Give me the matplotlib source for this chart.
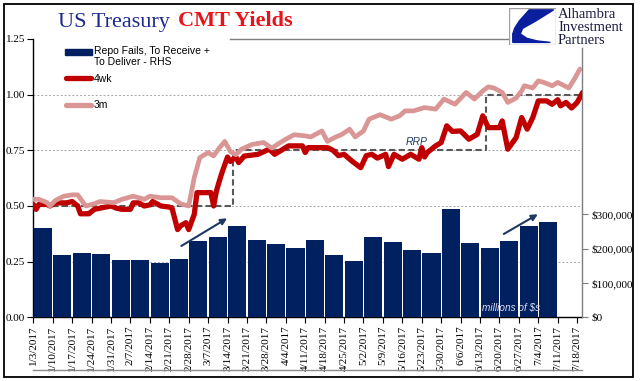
import numpy as np
import matplotlib
matplotlib.use("Agg")
import matplotlib.pyplot as plt
from matplotlib.lines import Line2D
from matplotlib.patches import Rectangle, Polygon
from matplotlib.ticker import FuncFormatter

# ---------------- data ----------------
week_labels = ["1/3/2017", "1/10/2017", "1/17/2017", "1/24/2017", "1/31/2017", "2/7/2017",
               "2/14/2017", "2/21/2017", "2/28/2017", "3/7/2017", "3/14/2017", "3/21/2017",
               "3/28/2017", "4/4/2017", "4/11/2017", "4/18/2017", "4/25/2017", "5/2/2017",
               "5/9/2017", "5/16/2017", "5/23/2017", "5/30/2017", "6/6/2017", "6/13/2017",
               "6/20/2017", "6/27/2017", "7/4/2017", "7/11/2017", "7/18/2017"]

# weekly repo fails (millions of $), one bar per week starting at each label
repo_fails = [261000, 180000, 187000, 183000, 166000, 166000, 158000, 169000, 221000,
              235000, 267000, 224000, 212000, 203000, 224000, 180000, 163000, 233000,
              218000, 195000, 186000, 314000, 215000, 203000, 221000, 267000, 276000]

# daily yields: day offsets from 1/3/2017
days_4wk = [0, 1, 2, 5, 6, 8, 12, 14, 16, 17,
            19, 20, 22, 24, 28, 30, 32, 35, 36, 38,
            40, 42, 43, 46, 49, 50, 52, 53, 55, 56,
            58, 59, 64, 65, 66, 67, 68, 70, 71, 73,
            74, 76, 81, 85, 87, 90, 92, 97, 98, 99,
            106, 108, 110, 112, 115, 118, 120, 122, 124, 127,
            128, 130, 133, 136, 139, 140, 141, 142, 145, 147,
            149, 151, 154, 157, 160, 162, 164, 168, 169, 171,
            174, 176, 178, 180, 182, 185, 187, 189, 190, 192,
            194, 196, 198]
yield_4wk = [0.507, 0.485, 0.507, 0.507, 0.500, 0.514, 0.514, 0.520, 0.500, 0.465,
             0.465, 0.465, 0.485, 0.490, 0.500, 0.490, 0.485, 0.485, 0.514, 0.514,
             0.500, 0.505, 0.520, 0.500, 0.495, 0.490, 0.394, 0.410, 0.425, 0.394,
             0.462, 0.560, 0.560, 0.500, 0.567, 0.610, 0.650, 0.720, 0.700, 0.720,
             0.695, 0.724, 0.732, 0.755, 0.732, 0.755, 0.770, 0.770, 0.740, 0.762,
             0.762, 0.750, 0.726, 0.732, 0.700, 0.672, 0.726, 0.732, 0.715, 0.732,
             0.677, 0.732, 0.710, 0.732, 0.710, 0.762, 0.720, 0.740, 0.770, 0.785,
             0.860, 0.835, 0.837, 0.800, 0.822, 0.905, 0.852, 0.852, 0.882, 0.755,
             0.807, 0.897, 0.845, 0.897, 0.972, 0.972, 0.957, 0.977, 0.950, 0.965,
             0.940, 0.965, 1.010]

days_3m = [0, 2, 5, 6, 8, 11, 14, 16, 18, 19,
           22, 24, 29, 32, 36, 40, 42, 46, 50, 53,
           56, 58, 60, 63, 65, 67, 69, 71, 73, 75,
           79, 83, 86, 88, 91, 94, 98, 100, 104, 106,
           109, 111, 114, 116, 119, 121, 125, 129, 132, 134,
           137, 141, 145, 148, 152, 156, 159, 162, 164, 166,
           169, 171, 174, 176, 177, 180, 182, 184, 187, 189,
           193, 195, 197]
yield_3m = [0.530, 0.530, 0.515, 0.500, 0.525, 0.544, 0.550, 0.550, 0.515, 0.500,
            0.510, 0.520, 0.515, 0.530, 0.544, 0.530, 0.544, 0.537, 0.537, 0.510,
            0.500, 0.627, 0.717, 0.740, 0.725, 0.760, 0.790, 0.745, 0.730, 0.755,
            0.777, 0.785, 0.760, 0.777, 0.800, 0.820, 0.815, 0.810, 0.837, 0.790,
            0.810, 0.820, 0.845, 0.810, 0.837, 0.890, 0.910, 0.890, 0.905, 0.927,
            0.927, 0.942, 0.935, 0.980, 0.957, 1.010, 0.980, 1.017, 1.035, 1.030,
            1.010, 0.965, 0.985, 1.017, 1.040, 1.030, 1.062, 1.055, 1.040, 1.055,
            1.030, 1.070, 1.115]

# Fed reverse repo rate (step)
rrp_days = [0, 72, 163, 198]
rrp_rate = [0.50, 0.75, 1.00, 1.00]

# ---------------- style ----------------
NAVY = "#002060"
RED = "#C00000"
PINK = "#DA9694"
SERIF = ["Liberation Serif", "DejaVu Serif"]
SANS = ["Liberation Sans", "DejaVu Sans"]

W, H = 641, 381
fig = plt.figure(figsize=(W / 100, H / 100), dpi=100)
fig.patch.set_facecolor("white")


def fx(x):
    return x / W


def fy(y):
    return 1 - y / H


L, R, T, B = 33.3, 582.0, 39.0, 317.3
ax = fig.add_axes([fx(L), fy(B), fx(R) - fx(L), fy(T) - fy(B)])
ax2 = ax.twinx()
ax3 = ax.twinx()

xmax = 28.25
y1max = 1.25
y2max = 810000

# ---- base axis (grid + left scale + dates)
ax.set_xlim(0, xmax)
ax.set_ylim(0, y1max)
for v in [0.25, 0.50, 0.75, 1.00]:
    ax.axhline(v, color="#A6A6A6", lw=0.7, ls=(0, (2, 2)), zorder=0)
ax.set_yticks([0, 0.25, 0.5, 0.75, 1.0, 1.25])
ax.set_yticklabels([f"{v:.2f}" for v in [0, 0.25, 0.5, 0.75, 1.0, 1.25]],
                   fontfamily=SERIF, fontsize=8)
ax.set_xticks(np.arange(len(week_labels)))
ax.set_xticklabels(week_labels, rotation=90, fontfamily=SERIF, fontsize=8)
ax.tick_params(axis="y", direction="out", length=4, width=0.8, pad=2, colors="black")
ax.tick_params(axis="x", direction="out", length=4, width=0.8, pad=2, colors="black")
for s in ["left", "bottom"]:
    ax.spines[s].set_color("black")
    ax.spines[s].set_linewidth(1.0)
ax.spines["right"].set_visible(False)
ax.spines["top"].set_color("#7F7F7F")
ax.spines["top"].set_linewidth(1.0)
ax.spines["top"].set_bounds((230 - L) / (R - L) * xmax, (509 - L) / (R - L) * xmax)

# ---- bars on right scale
bar_x = np.arange(len(repo_fails)) + 0.5
ax2.bar(bar_x, repo_fails, width=0.93, color=NAVY, zorder=2)
ax2.set_ylim(0, y2max)
ax2.set_yticks([0, 100000, 200000, 300000])
ax2.yaxis.set_major_formatter(FuncFormatter(lambda v, p: f"${v:,.0f}"))
for lab in ax2.get_yticklabels():
    lab.set_fontfamily(SERIF)
    lab.set_fontsize(8)
ax2.tick_params(axis="y", direction="out", length=4, width=0.8, pad=3,
                color="#7F7F7F", labelcolor="black")
for s in ["left", "top", "bottom"]:
    ax2.spines[s].set_visible(False)
ax2.spines["right"].set_color("#7F7F7F")
ax2.spines["right"].set_linewidth(1.0)
ax2.spines["right"].set_bounds(0, y2max * (B - 48) / (B - T))

# ---- lines on left scale
ax3.set_ylim(0, y1max)
ax3.set_xlim(0, xmax)
ax3.set_yticks([])
for s in ax3.spines.values():
    s.set_visible(False)
ax3.plot(np.array(rrp_days) / 7, rrp_rate, drawstyle="steps-post", color="#595959",
         lw=1.5, ls=(0, (3, 1.6)), zorder=3)
ax3.plot(np.array(days_4wk) / 7, yield_4wk, color=RED, lw=3.8,
         solid_joinstyle="round", solid_capstyle="round", zorder=4)
ax3.plot(np.array(days_3m) / 7, yield_3m, color=PINK, lw=3.4,
         solid_joinstyle="round", solid_capstyle="round", zorder=5)

ax3.annotate("", xy=(10.1, 0.451), xytext=(7.5, 0.314),
             arrowprops=dict(arrowstyle="-|>", color="#1F3864", lw=1.5, mutation_scale=9))
ax3.annotate("", xy=(26.1, 0.469), xytext=(24.1, 0.368),
             arrowprops=dict(arrowstyle="-|>", color="#1F3864", lw=1.5, mutation_scale=9))
ax3.text(19.15, 0.786, "RRP", style="italic", color="#1F3864", fontsize=7.5,
         fontfamily=SANS, va="center", ha="left")
ax3.text(23.1, 0.04, "millions of $s", style="italic", color="#DCDCF0", fontsize=7.2,
         fontfamily=SANS, va="center", ha="left")

# ---------------- legend (manual) ----------------
fig.add_artist(Rectangle((fx(65), fy(54.5)), fx(92) - fx(65), fy(48.5) - fy(54.5),
                         transform=fig.transFigure, color=NAVY))
fig.text(fx(94), fy(46.5), "Repo Fails, To Receive +\nTo Deliver - RHS", fontsize=7.5,
         fontfamily=SANS, va="top", ha="left", linespacing=1.05)
fig.add_artist(Line2D([fx(66), fx(91)], [fy(78), fy(78)], transform=fig.transFigure,
                      color=RED, lw=3.8, solid_capstyle="round"))
fig.text(fx(93.5), fy(78.5), "4wk", fontsize=7.5, fontfamily=SANS, va="center", ha="left")
fig.add_artist(Line2D([fx(66), fx(91)], [fy(105), fy(105)], transform=fig.transFigure,
                      color=PINK, lw=3.8, solid_capstyle="round"))
fig.text(fx(93.5), fy(105.5), "3m", fontsize=7.5, fontfamily=SANS, va="center", ha="left")

# ---------------- title ----------------
fig.text(fx(58), fy(26.5), "US Treasury", fontsize=16, fontfamily=SERIF,
         color="#1C2A8C", va="baseline", ha="left")
fig.text(fx(178), fy(26.5), "CMT Yields", fontsize=16, fontfamily=SERIF,
         fontweight="bold", color="#E8141B", va="baseline", ha="left")

# ---------------- logo ----------------
lax = fig.add_axes([fx(509), fy(45), fx(556) - fx(509), fy(8) - fy(45)])
lax.set_xlim(0, 1)
lax.set_ylim(0, 1)
lax.axis("off")
lax.add_patch(Rectangle((0.01, 0.01), 0.98, 0.98, fill=True, fc="white", ec="#A0A0A0", lw=1))
shape = [(0.43, 0.95), (0.22, 0.65), (0.12, 0.45), (0.08, 0.30), (0.08, 0.07),
         (0.88, 0.07), (0.60, 0.11), (0.38, 0.18), (0.24, 0.30), (0.29, 0.45),
         (0.57, 0.65), (0.95, 0.95)]
lax.add_patch(Polygon(shape, closed=True, color="#0B1F9E"))
for txt, yb in [("Alhambra", 18.5), ("Investment", 31), ("Partners", 44)]:
    fig.text(fx(558), fy(yb), txt, fontsize=10.5, fontfamily=SERIF, color="#1A1A40",
             va="baseline", ha="left")

# ---------------- decorations ----------------
fig.add_artist(Line2D([fx(33.3), fx(582)], [fy(370), fy(370)], transform=fig.transFigure,
                      color="#8C8C8C", lw=1))
fig.add_artist(Rectangle((fx(4), fy(377)), fx(633) - fx(4), fy(4) - fy(377),
                         transform=fig.transFigure, fill=False, ec="black", lw=1.3))

fig.savefig("out.png", dpi=100)
